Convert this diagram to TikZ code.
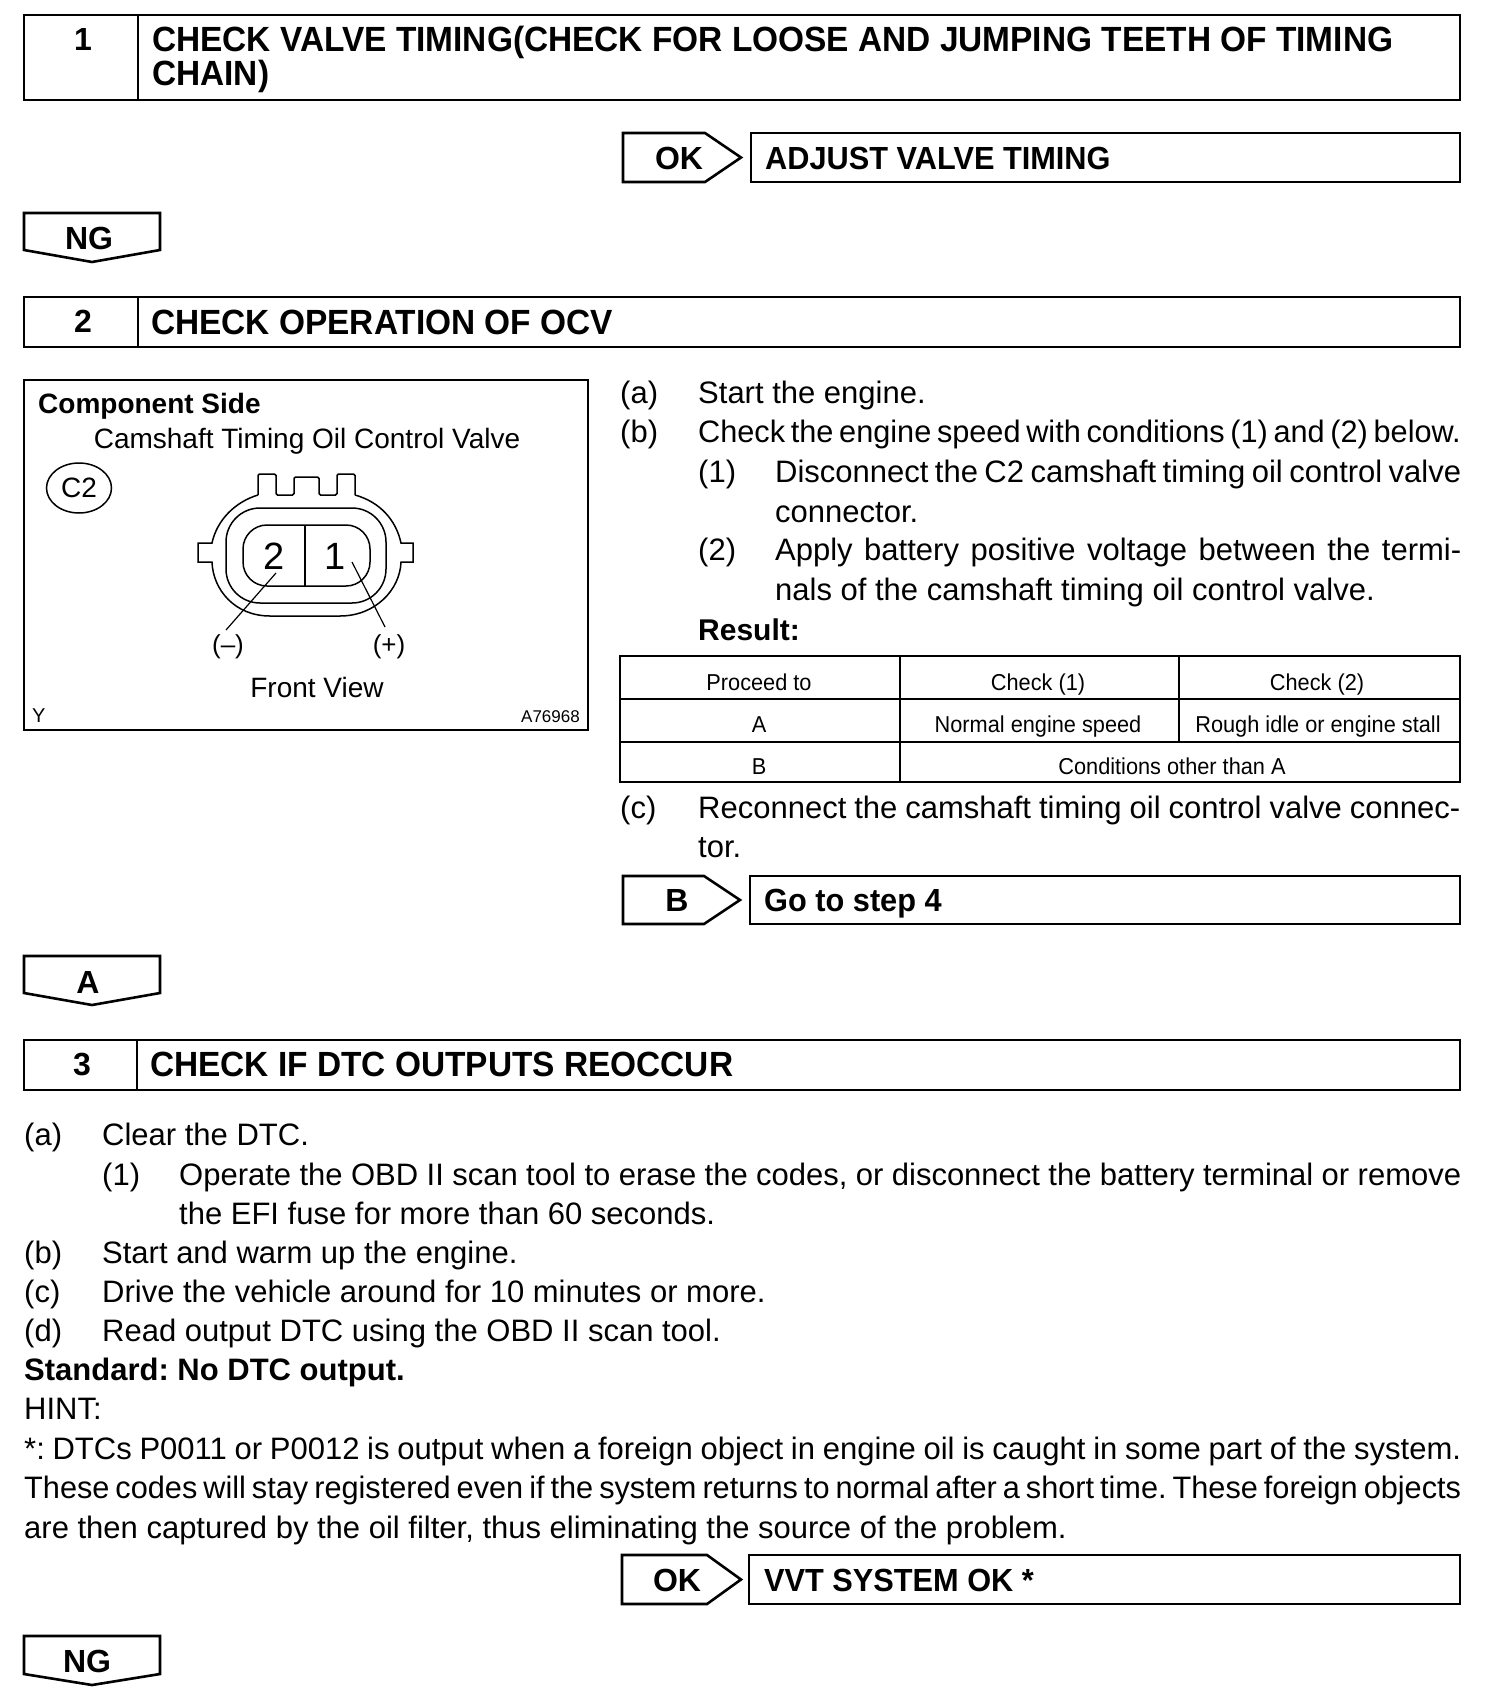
\documentclass[tikz,border=0pt]{standalone}
\usetikzlibrary{shapes.geometric}
\usepackage{graphicx}
\usepackage{fontspec}
\setmainfont{Liberation Sans}
\newcommand{\bodyf}{\fontsize{31}{36}\selectfont\frenchspacing}
\newcommand{\headf}{\fontsize{35}{34}\selectfont\bfseries}
\newcommand{\tagf}{\fontsize{32}{34}\selectfont\bfseries}
\newcommand{\tabf}{\fontsize{23}{26}\selectfont}
\newcommand{\figf}{\fontsize{28}{32}\selectfont}
\newcommand{\hx}[1]{\scalebox{0.955}[1]{#1}}
\newcommand{\tx}[1]{\scalebox{0.96}[1]{#1}}
\newcommand{\cx}[1]{\scalebox{0.945}[1]{#1}}
\tikzset{
 line/.style={draw=black,line width=2.6pt,line join=miter},
 thin line/.style={draw=black,line width=1.5pt},
 body/.style={anchor=base west,inner sep=0pt,font=\bodyf},
 head/.style={anchor=base west,inner sep=0pt,font=\headf},
 tagtxt/.style={inner sep=0pt,font=\tagf},
 tabtxt/.style={inner sep=0pt,anchor=base,font=\tabf},
 figtxt/.style={inner sep=0pt,font=\figf},
}
\newcommand{\jline}[5]{\node[body] (#1) at (#2,#3) {\makebox[#4pt][s]{#5}};}
\newcommand{\kline}[5]{\node[body] (#1) at (#2,#3) {\scalebox{0.99}[1]{\makebox[#4pt][s]{#5}}};}
\newcommand{\rtag}[6]{% x0 shoulder tip y0 y1 right box start
 \draw[line] (#1,#4) -- (#2,#4) -- (#3,{(#4+#5)/2}) -- (#2,#5) -- (#1,#5) -- cycle;
 \draw[line] (#6,#4) rectangle (1460,#5);}
\newcommand{\dtag}[5]{% x0 x1 y0 y1 tip
 \draw[line] (#1,#3) -- (#2,#3) -- (#2,#4) -- ({(#1+#2)/2},#5) -- (#1,#4) -- cycle;}
\begin{document}
\begin{tikzpicture}[x=1pt,y=-1pt]
\useasboundingbox (0,0) rectangle (1504,1702);
\fill[white] (0,0) rectangle (1504,1702);

% Step 1
\draw[line] (24,15) rectangle (1460,100);
\draw[line] (138,15) -- (138,100);
\node[tagtxt] (n1) at (83,39) {1};
\node[head] (h1a) at (152,52) {\hx{CHECK VALVE TIMING(CHECK FOR LOOSE AND JUMPING TEETH OF TIMING}};
\node[head] (h1b) at (152,85) {\hx{CHAIN)}};
\rtag{623}{705}{741}{133}{182}{751}
\node[tagtxt] (ok1) at (679,158) {OK};
\node[head,font=\tagf] (ok1t) at (765,169) {\tx{ADJUST VALVE TIMING}};
\dtag{24}{160}{213}{250}{262}
\node[tagtxt] (ng1) at (89,238) {NG};

% Step 2
\draw[line] (24,297) rectangle (1460,347);
\draw[line] (138,297) -- (138,347);
\node[tagtxt] (n2) at (83,321) {2};
\node[head] (h2) at (151,334) {\hx{CHECK OPERATION OF OCV}};

% Figure
\draw[line] (24,380) rectangle (588,730);
\node[figtxt,font=\figf\bfseries,anchor=west] (cs) at (38,406) {Component Side};
\node[figtxt] (cam) at (307,441) {Camshaft Timing Oil Control Valve};
\node[draw=black,line width=1.5pt,ellipse,inner sep=0pt,minimum width=65pt,minimum height=50pt,font=\figf] (c2) at (79,488) {C2};
% connector outline
\draw[thin line,rounded corners=1.5pt] (258,495) -- (258,474) -- (276,474) -- (276,495) -- (294,495) -- (294,477) -- (319,477) -- (319,495) -- (337,495) -- (337,474) -- (355,474) -- (355,495);
\draw[thin line] (355,495) .. controls (380,502) and (396,520) .. (401,543) -- (413,543) -- (413,562) -- (401,562)
 .. controls (400,590) and (375,616) .. (340,616) -- (270,616) .. controls (235,616) and (213,590) .. (212,562) -- (198,562) -- (198,543) -- (212,543)
 .. controls (217,520) and (235,502) .. (258,495);
\draw[thin line,rounded corners=34pt] (226,508) rectangle (386,603);
\draw[thin line,rounded corners=24pt] (243,525) rectangle (370,586);
\draw[thin line] (305,525) -- (305,586);
\node[inner sep=0pt,font=\fontsize{38}{40}\selectfont] (p2) at (274,556) {2};
\node[inner sep=0pt,font=\fontsize{38}{40}\selectfont] (p1) at (335,556) {1};
\node[figtxt,font=\fontsize{26}{30}\selectfont] (neg) at (228,647) {(--)};
\node[figtxt,font=\fontsize{26}{30}\selectfont] (pos) at (389,647) {(+)};
\coordinate (l2) at (276,573);
\coordinate (l1) at (352,562);
\coordinate (lneg) at (226,630);
\coordinate (lpos) at (385,627);
\draw[thin line,line width=1.2pt] (l2) -- (lneg);
\draw[thin line,line width=1.2pt] (l1) -- (lpos);
\node[figtxt] (fv) at (317,687) {Front View};
\node[inner sep=0pt,font=\fontsize{20}{22}\selectfont,anchor=west] (yy) at (32,716) {Y};
\node[inner sep=0pt,font=\fontsize{17}{20}\selectfont,anchor=east] (acode) at (580,717) {A76968};

% Step 2 text
\node[body] (a2a) at (620,403) {(a)}; \node[body] (a2at) at (698,403) {Start the engine.};
\node[body] (a2b) at (620,442) {(b)}; \kline{a2bt}{698}{442}{769.7}{Check the engine speed with conditions (1) and (2) below.}
\node[body] (a21) at (698,482) {(1)}; \jline{a21t}{775}{482}{686}{Disconnect the C2 camshaft timing oil control valve}
\node[body] (a21b) at (775,522) {connector.};
\node[body] (a22) at (698,560) {(2)}; \jline{a22t}{775}{560}{686}{Apply battery positive voltage between the termi-}
\node[body] (a22b) at (775,600) {nals of the camshaft timing oil control valve.};
\node[body,font=\fontsize{30}{36}\selectfont\bfseries] (res) at (698,640) {Result:};

% Table
\draw[line,line width=2pt] (620,656) rectangle (1460,782);
\draw[line,line width=2pt] (620,699) -- (1460,699);
\draw[line,line width=2pt] (620,742) -- (1460,742);
\draw[line,line width=2pt] (900,656) -- (900,782);
\draw[line,line width=2pt] (1179,656) -- (1179,742);
\node[tabtxt] (t11) at (759,690) {\cx{Proceed to}};
\node[tabtxt] (t12) at (1038,690) {\cx{Check (1)}};
\node[tabtxt] (t13) at (1317,690) {\cx{Check (2)}};
\node[tabtxt] (t21) at (759,732) {\cx{A}};
\node[tabtxt] (t22) at (1038,732) {\cx{Normal engine speed}};
\node[tabtxt] (t23) at (1318,732) {\cx{Rough idle or engine stall}};
\node[tabtxt] (t31) at (759,774) {\cx{B}};
\node[tabtxt] (t32) at (1172,774) {\cx{Conditions other than A}};

\node[body] (a2c) at (620,818) {(c)}; \jline{a2ct}{698}{818}{762}{Reconnect the camshaft timing oil control valve connec-}
\node[body] (a2cb) at (698,857) {tor.};

\rtag{623}{704}{740}{876}{924}{750}
\node[tagtxt] (bt) at (677,900) {B};
\node[head,font=\tagf] (gt) at (764,911) {\tx{Go to step 4}};
\dtag{24}{160}{956}{993}{1005}
\node[tagtxt] (at) at (88,982) {A};

% Step 3
\draw[line] (24,1040) rectangle (1460,1090);
\draw[line] (137,1040) -- (137,1090);
\node[tagtxt] (n3) at (82,1064) {3};
\node[head] (h3) at (150,1076) {\hx{CHECK IF DTC OUTPUTS REOCCUR}};

\node[body] (b3a) at (24,1145) {(a)}; \node[body] (b3at) at (102,1145) {Clear the DTC.};
\node[body] (b31) at (102,1185) {(1)}; \jline{b31t}{179}{1185}{1282}{Operate the OBD II scan tool to erase the codes, or disconnect the battery terminal or remove}
\node[body] (b31b) at (179,1224) {the EFI fuse for more than 60 seconds.};
\node[body] (b3b) at (24,1263) {(b)}; \node[body] (b3bt) at (102,1263) {Start and warm up the engine.};
\node[body] (b3c) at (24,1302) {(c)}; \node[body] (b3ct) at (102,1302) {Drive the vehicle around for 10 minutes or more.};
\node[body] (b3d) at (24,1341) {(d)}; \node[body] (b3dt) at (102,1341) {Read output DTC using the OBD II scan tool.};
\node[body,font=\bodyf\bfseries] (std) at (24,1380) {Standard: No DTC output.};
\node[body] (hint) at (24,1419) {HINT:};
\jline{d1}{24}{1459}{1437}{*: DTCs P0011 or P0012 is output when a foreign object in engine oil is caught in some part of the system.}
\kline{d2}{24}{1498}{1451.5}{These codes will stay registered even if the system returns to normal after a short time. These foreign objects}
\node[body] (d3) at (24,1538) {are then captured by the oil filter, thus eliminating the source of the problem.};

\rtag{622}{707}{741}{1555}{1604}{749}
\node[tagtxt] (ok3) at (677,1580) {OK};
\node[head,font=\tagf] (vvt) at (764,1591) {\tx{VVT SYSTEM OK *}};
\dtag{24}{160}{1636}{1674}{1685}
\node[tagtxt] (ng3) at (87,1661) {NG};
\end{tikzpicture}
\end{document}
